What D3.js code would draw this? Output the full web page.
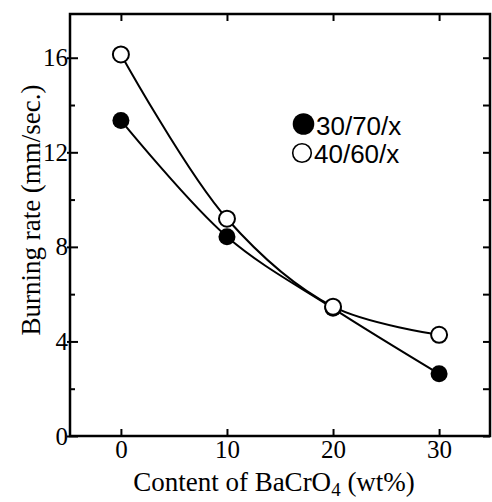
<!DOCTYPE html>
<html><head><meta charset="utf-8">
<script src="https://cdn.jsdelivr.net/npm/d3@7"></script>
<style>body{margin:0;background:#fff}svg{display:block}</style>
</head><body>
<script>
const content = [0, 10, 20, 30];
const series3070 = [13.35, 8.43, 5.4, 2.63];
const series4060 = [16.14, 9.19, 5.47, 4.28];
const xTicks = [0, 10, 20, 30];
const yTicks = [0, 4, 8, 12, 16];
const yMinor = [2, 6, 10, 14];
const legendLabels = ["30/70/x", "40/60/x"];

const W = 492, H = 502;
const L = 70, R = 490, T = 14, B = 436;
const svg = d3.select("body").append("svg").attr("width", W).attr("height", H);
const x = d3.scaleLinear().domain([-4.8, 34.8]).range([L, R]);
const y = d3.scaleLinear().domain([0, 17.85]).range([B, T]);
const serif = "'Liberation Serif','Times New Roman',serif";

// frame
svg.append("rect").attr("x", L).attr("y", T).attr("width", R - L).attr("height", B - T)
  .attr("fill", "none").attr("stroke", "#000").attr("stroke-width", 2.5);

// bottom ticks & labels
const gx = svg.append("g").attr("transform", `translate(0,${B})`)
  .call(d3.axisBottom(x).tickValues(xTicks).tickSizeInner(-7).tickSizeOuter(0).tickPadding(4));
gx.select(".domain").remove();
gx.selectAll("line").attr("stroke-width", 2);
gx.selectAll("text").attr("font-family", serif).attr("font-size", 25).attr("fill", "#000");

// top ticks
svg.append("g").attr("transform", `translate(0,${T})`)
  .call(d3.axisTop(x).tickValues(xTicks).tickSizeInner(-7).tickSizeOuter(0).tickFormat(""))
  .call(g => { g.select(".domain").remove(); g.selectAll("line").attr("stroke-width", 2); });

// left ticks & labels
const gy = svg.append("g").attr("transform", `translate(${L},0)`)
  .call(d3.axisLeft(y).tickValues(yTicks).tickSizeInner(-8).tickSizeOuter(0).tickPadding(2));
gy.select(".domain").remove();
gy.selectAll("line").attr("stroke-width", 2).attr("x1", -3);
gy.selectAll("text").attr("font-family", serif).attr("font-size", 25).attr("fill", "#000");
svg.append("g").attr("transform", `translate(${L},0)`)
  .call(d3.axisLeft(y).tickValues(yMinor).tickSizeInner(-5).tickSizeOuter(0).tickFormat(""))
  .call(g => { g.select(".domain").remove(); g.selectAll("line").attr("stroke-width", 2); });

// right ticks
svg.append("g").attr("transform", `translate(${R},0)`)
  .call(d3.axisRight(y).tickValues(yTicks.concat(yMinor)).tickSizeInner(-7).tickSizeOuter(0).tickFormat(""))
  .call(g => { g.select(".domain").remove(); g.selectAll("line").attr("stroke-width", 2); });

// axis titles
svg.append("text").attr("transform", `translate(40,210) rotate(-90)`)
  .attr("text-anchor", "middle").attr("font-family", serif).attr("font-size", 27)
  .text("Burning rate (mm/sec.)");
const xt = svg.append("text").attr("x", 274).attr("y", 491).attr("text-anchor", "middle")
  .attr("font-family", serif).attr("font-size", 27);
xt.append("tspan").text("Content of BaCrO");
xt.append("tspan").attr("font-size", 19).attr("dy", 5).text("4");
xt.append("tspan").attr("dy", -5).text(" (wt%)");

// lines
const line = d3.line().x((d, i) => x(content[i])).y(d => y(d)).curve(d3.curveCatmullRom.alpha(0.5));
[series3070, series4060].forEach(s => {
  svg.append("path").attr("d", line(s)).attr("fill", "none").attr("stroke", "#000").attr("stroke-width", 2);
});

// markers
svg.selectAll(".m1").data(series3070).join("circle")
  .attr("cx", (d, i) => x(content[i])).attr("cy", d => y(d)).attr("r", 8.5).attr("fill", "#000");
svg.selectAll(".m2").data(series4060).join("circle")
  .attr("cx", (d, i) => x(content[i])).attr("cy", d => y(d)).attr("r", 8)
  .attr("fill", "#fff").attr("stroke", "#000").attr("stroke-width", 2);

// legend
const sans = "'Liberation Sans',Arial,sans-serif";
svg.append("circle").attr("cx", 303.5).attr("cy", 124).attr("r", 10.8).attr("fill", "#000");
svg.append("circle").attr("cx", 302).attr("cy", 153).attr("r", 9.3).attr("fill", "#fff").attr("stroke", "#000").attr("stroke-width", 1.6);
svg.append("text").attr("x", 316).attr("y", 135).attr("font-family", sans).attr("font-size", 26).text(legendLabels[0]);
svg.append("text").attr("x", 314).attr("y", 163).attr("font-family", sans).attr("font-size", 26).text(legendLabels[1]);
</script>
</body></html>
